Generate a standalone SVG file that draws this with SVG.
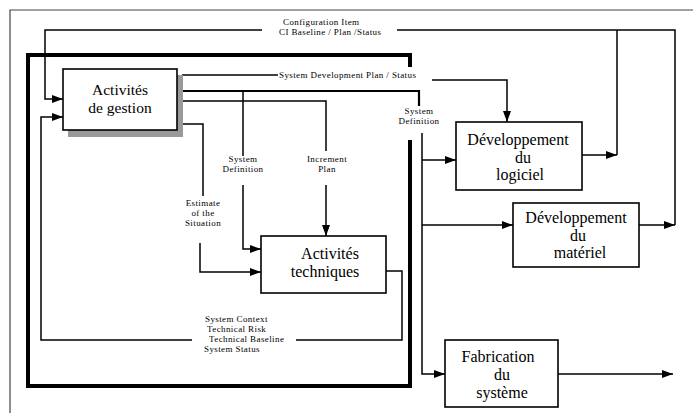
<svg xmlns="http://www.w3.org/2000/svg" width="693" height="416" viewBox="0 0 693 416">
<defs>
<marker id="ah" markerUnits="userSpaceOnUse" markerWidth="11" markerHeight="8" refX="11" refY="4" orient="auto">
<path d="M0,0 L11,4 L0,8 z" fill="#000"/>
</marker>
<style>
.ln{fill:none;stroke:#000;stroke-width:1.5}
.th{fill:none;stroke:#000;stroke-width:2.2}
.frame{fill:none;stroke:#000;stroke-width:4}
.outer{fill:none;stroke:#444;stroke-width:1.2}
.box{fill:#fff;stroke:#000;stroke-width:1.6}
.big{font-family:"Liberation Serif","Times New Roman",serif;font-size:16px;fill:#000;text-anchor:middle}
.sm{font-family:"Liberation Serif","Times New Roman",serif;font-size:9px;letter-spacing:0.4px;fill:#000}
.mid{text-anchor:middle}
</style>
</defs>
<rect width="693" height="416" fill="#fff"/>
<g id="frames">
<path class="outer" d="M10,413 V10 H693"/>
<path class="frame" d="M410,67 V55 H28 V386 H410 V140"/>
</g>
<g id="connectors">
<path class="ln" d="M582,155 H617" marker-end="url(#ah)"/>
<path class="ln" d="M639,225 H675" marker-end="url(#ah)"/>
<path class="ln" d="M675,225 V30 H397"/>
<path class="ln" d="M617,155 V30"/>
<path class="ln" d="M262,30 H45 V99 H63" marker-end="url(#ah)"/>
<path class="ln" d="M386,271 H402 V340 H296"/>
<path class="ln" d="M192,340 H41 V117 H63" marker-end="url(#ah)"/>
<path class="ln" d="M182,75 H278"/>
<path class="ln" d="M432,80 H507 V122" marker-end="url(#ah)"/>
<path class="th" d="M182,91 H419 V106"/>
<path class="ln" d="M422,133 V374 H445" marker-end="url(#ah)"/>
<path class="ln" d="M422,160 H456" marker-end="url(#ah)"/>
<path class="ln" d="M422,225 H513" marker-end="url(#ah)"/>
<path class="ln" d="M243,91 V156"/>
<path class="ln" d="M243,185 V249 H261" marker-end="url(#ah)"/>
<path class="ln" d="M182,101 H326 V151"/>
<path class="ln" d="M326,185 V236" marker-end="url(#ah)"/>
<path class="ln" d="M182,124 H203 V196"/>
<path class="ln" d="M200,243 V272 H261" marker-end="url(#ah)"/>
<path class="ln" d="M558,374 H673" marker-end="url(#ah)"/>
<text class="sm" x="283" y="25">Configuration Item</text>
<text class="sm" x="279" y="35">CI Baseline / Plan /Status</text>
<text class="sm" x="279" y="78">System Development Plan / Status</text>
<text class="sm mid" x="419" y="114">System</text>
<text class="sm mid" x="419" y="124">Definition</text>
<text class="sm mid" x="243" y="162">System</text>
<text class="sm mid" x="243" y="172">Definition</text>
<text class="sm mid" x="327" y="162">Increment</text>
<text class="sm mid" x="327" y="172">Plan</text>
<text class="sm mid" x="203" y="206">Estimate</text>
<text class="sm mid" x="203" y="216">of the</text>
<text class="sm mid" x="203" y="226">Situation</text>
<text class="sm" x="205" y="322">System Context</text>
<text class="sm" x="207" y="332">Technical Risk</text>
<text class="sm" x="209" y="342">Technical Baseline</text>
<text class="sm" x="204" y="352">System Status</text>
</g>
<g id="gestion">
<rect x="68" y="75" width="115" height="62" fill="#9a9a9a"/>
<rect class="box" x="63" y="69" width="114" height="61"/>
<text class="big" x="120" y="95" style="font-size:15.5px">Activités</text>
<text class="big" x="120" y="113" style="font-size:15.5px">de gestion</text>
</g>
<g id="techniques">
<rect class="box" x="261" y="236" width="125" height="57"/>
<text class="big" x="330" y="259">Activités</text>
<text class="big" x="325" y="277">techniques</text>
</g>
<g id="logiciel">
<rect class="box" x="456" y="122" width="126" height="68"/>
<text class="big" x="518" y="145">Développement</text>
<text class="big" x="523" y="163">du</text>
<text class="big" x="520" y="180">logiciel</text>
</g>
<g id="materiel">
<rect class="box" x="513" y="203" width="126" height="64"/>
<text class="big" x="576" y="223">Développement</text>
<text class="big" x="578" y="241">du</text>
<text class="big" x="580" y="258">matériel</text>
</g>
<g id="fabrication">
<rect class="box" x="445" y="340" width="113" height="67"/>
<text class="big" x="498" y="362">Fabrication</text>
<text class="big" x="502" y="380">du</text>
<text class="big" x="502" y="398">système</text>
</g>
</svg>
